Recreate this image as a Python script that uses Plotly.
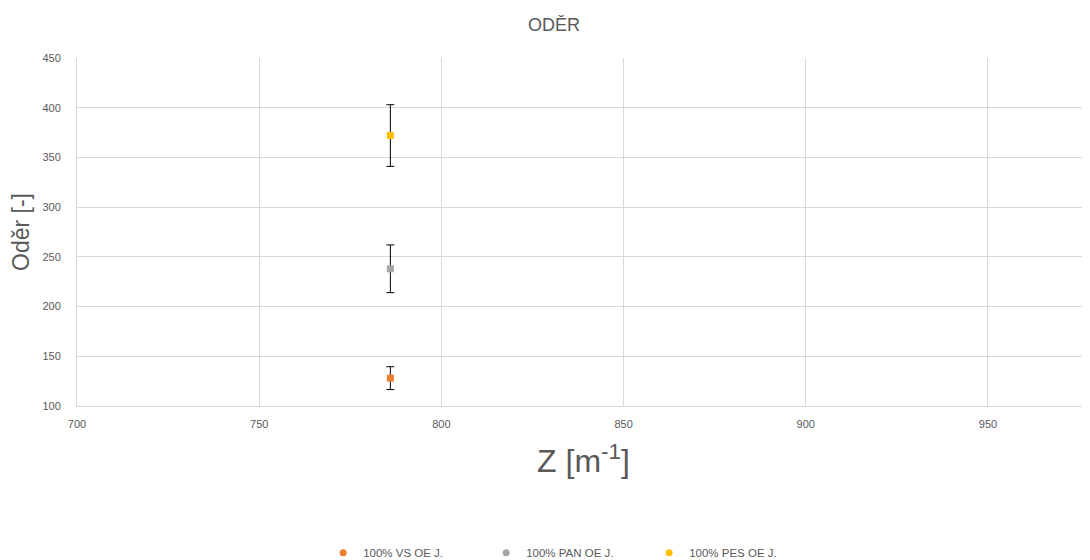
import plotly.graph_objects as go

series_names = ["100% VS OE J.", "100% PAN OE J.", "100% PES OE J."]
z_values = [786, 786, 786]
oder_values = [128, 238, 372]
oder_errors = [11.5, 24, 31]
colors = ["#ED7D31", "#A5A5A5", "#FFC000"]

fig = go.Figure()
for name, z, v, e, c in zip(series_names, z_values, oder_values, oder_errors, colors):
    fig.add_trace(go.Scatter(
        x=[z], y=[v], name=name, mode="markers", legendgroup=name, showlegend=False,
        marker=dict(symbol="square", size=7, color=c),
        error_y=dict(type="data", array=[e], visible=True, color="#000000", thickness=1, width=4),
    ))
    # legend entry (circle symbol, as in the reference legend)
    fig.add_trace(go.Scatter(
        x=[None], y=[None], name=name, mode="markers", legendgroup=name, showlegend=True,
        marker=dict(symbol="circle", size=7, color=c),
    ))

font_family = "Liberation Sans"
fig.update_layout(
    width=1090, height=552,
    paper_bgcolor="white", plot_bgcolor="white",
    margin=dict(l=69, r=8, t=50, b=154, autoexpand=False),
    font=dict(family=font_family, color="#595959", size=11),
    title=dict(text="ODĚR", xref="container", x=0.501, xanchor="center",
               yref="container", y=0.969, yanchor="middle",
               font=dict(size=18, color="#595959")),
    xaxis=dict(range=[700, 978], tickmode="linear", tick0=700, dtick=50,
               showgrid=True, gridcolor="#D9D9D9", gridwidth=1,
               showline=True, linecolor="#D9D9D9", zeroline=False,
               ticks="", ticklabelstandoff=8, tickfont=dict(size=11, color="#595959"),
               title=dict(text="Z [m<sup>-1</sup>]", font=dict(size=32, color="#595959"), standoff=20)),
    yaxis=dict(range=[100, 450], tickmode="linear", tick0=100, dtick=50,
               showgrid=True, gridcolor="#D9D9D9", gridwidth=1,
               showline=True, linecolor="#D9D9D9", zeroline=False,
               ticks="", ticklabelstandoff=13, tickfont=dict(size=11, color="#595959"),
               title=dict(text="Oděr [-]", font=dict(size=23, color="#595959"), standoff=6)),
    legend=dict(orientation="h", x=0.243, xanchor="left", y=-0.422, yanchor="middle",
                font=dict(size=11.5, color="#595959"), entrywidth=118, entrywidthmode="pixels",
                itemwidth=30),
)

fig.write_html("out.html")
